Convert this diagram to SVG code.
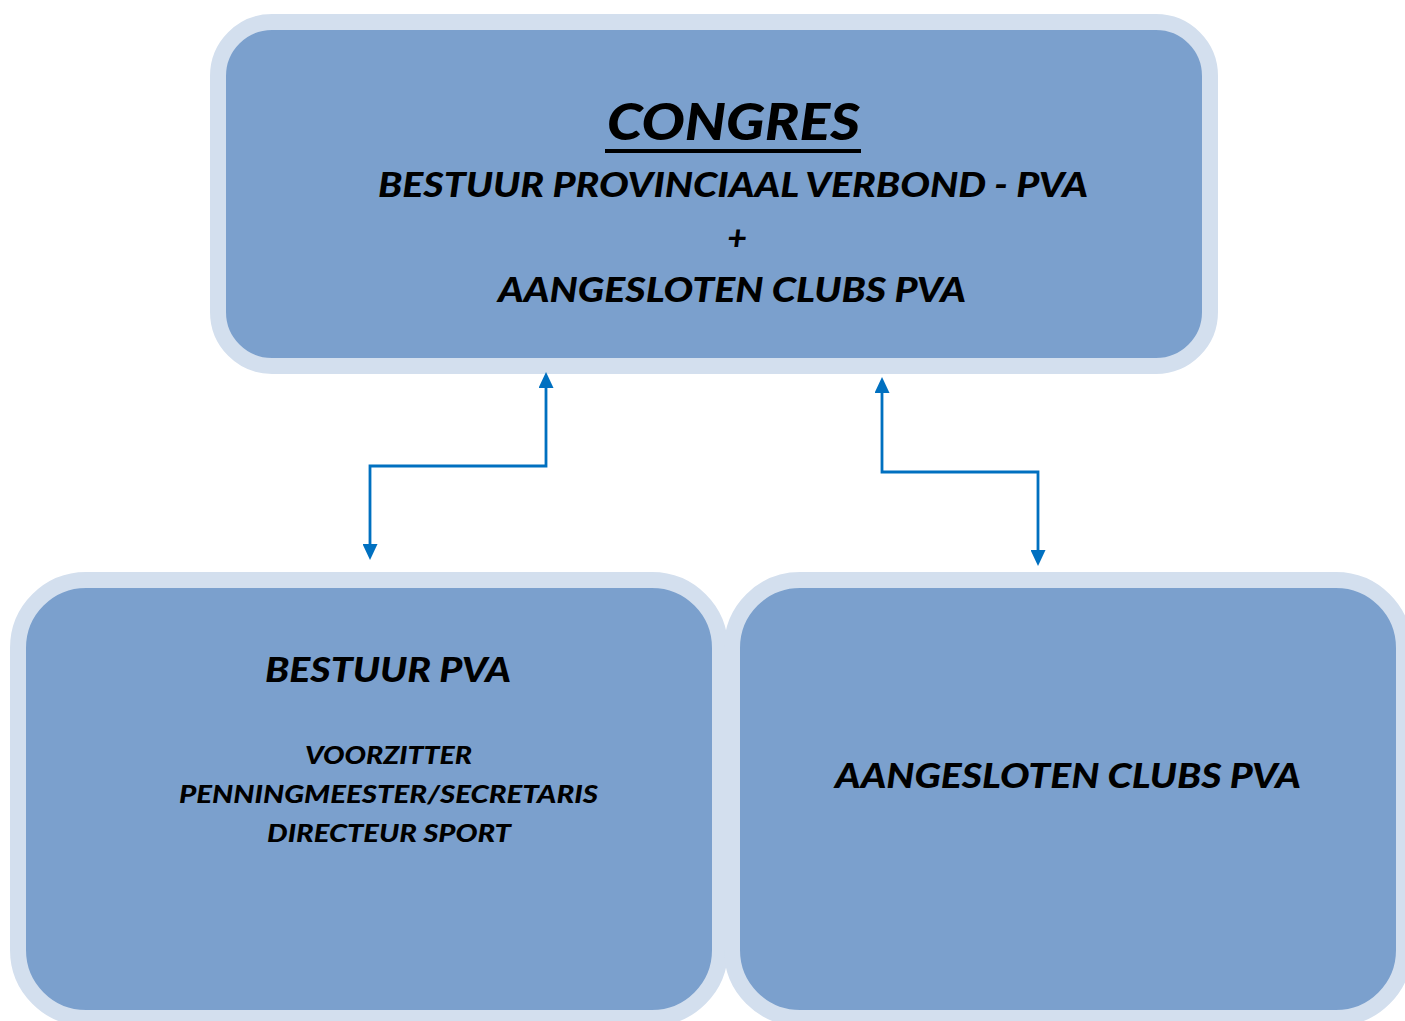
<svg xmlns="http://www.w3.org/2000/svg" width="1405" height="1021" viewBox="0 0 1405 1021">
  <style>
    .box { fill: #7BA0CD; stroke: #D3DFEE; stroke-width: 16; }
    .t { font-family: Lato, "Open Sans", "Liberation Sans", sans-serif; font-weight: 900; font-style: italic; fill: #000; }
    .conn { fill: none; stroke: #0070C0; stroke-width: 2.8; }
  </style>
  <defs>
    <marker id="arrow" markerUnits="userSpaceOnUse" markerWidth="16" markerHeight="15" viewBox="0 0 16 15" refX="0" refY="7.5" orient="auto-start-reverse">
      <path d="M0,0 L16,7.5 L0,15 z" fill="#0070C0"/>
    </marker>
  </defs>
  <rect width="1405" height="1021" fill="#FFFFFF"/>

  <g id="congres">
    <rect class="box" x="218" y="22" width="992" height="344" rx="54" ry="54"/>
    <text class="t" x="607" y="140" font-size="52" textLength="253" lengthAdjust="spacingAndGlyphs">CONGRES</text>
    <rect x="605" y="149" width="256" height="4" fill="#000"/>
    <text class="t" x="378" y="197" font-size="34" textLength="710" lengthAdjust="spacingAndGlyphs">BESTUUR PROVINCIAAL VERBOND - PVA</text>
    <text class="t" x="737" y="250" font-size="34" text-anchor="middle">+</text>
    <text class="t" x="498" y="302" font-size="34" textLength="468" lengthAdjust="spacingAndGlyphs">AANGESLOTEN CLUBS PVA</text>
  </g>

  <g id="bestuur-pva">
    <rect class="box" x="18" y="580" width="702" height="438" rx="68" ry="68"/>
    <text class="t" x="265" y="682" font-size="34" textLength="246" lengthAdjust="spacingAndGlyphs">BESTUUR PVA</text>
    <text class="t" x="305" y="764" font-size="24" textLength="167" lengthAdjust="spacingAndGlyphs">VOORZITTER</text>
    <text class="t" x="179" y="803" font-size="24" textLength="419" lengthAdjust="spacingAndGlyphs">PENNINGMEESTER/SECRETARIS</text>
    <text class="t" x="267" y="842" font-size="24" textLength="244" lengthAdjust="spacingAndGlyphs">DIRECTEUR SPORT</text>
  </g>

  <g id="aangesloten-clubs">
    <rect class="box" x="732" y="580" width="672" height="438" rx="68" ry="68"/>
    <text class="t" x="835" y="788" font-size="34" textLength="466" lengthAdjust="spacingAndGlyphs">AANGESLOTEN CLUBS PVA</text>
  </g>

  <g id="connectors">
    <path class="conn" d="M546,388 V466 H370 V544" marker-start="url(#arrow)" marker-end="url(#arrow)"/>
    <path class="conn" d="M882,393 V472 H1038 V550" marker-start="url(#arrow)" marker-end="url(#arrow)"/>
  </g>
</svg>
